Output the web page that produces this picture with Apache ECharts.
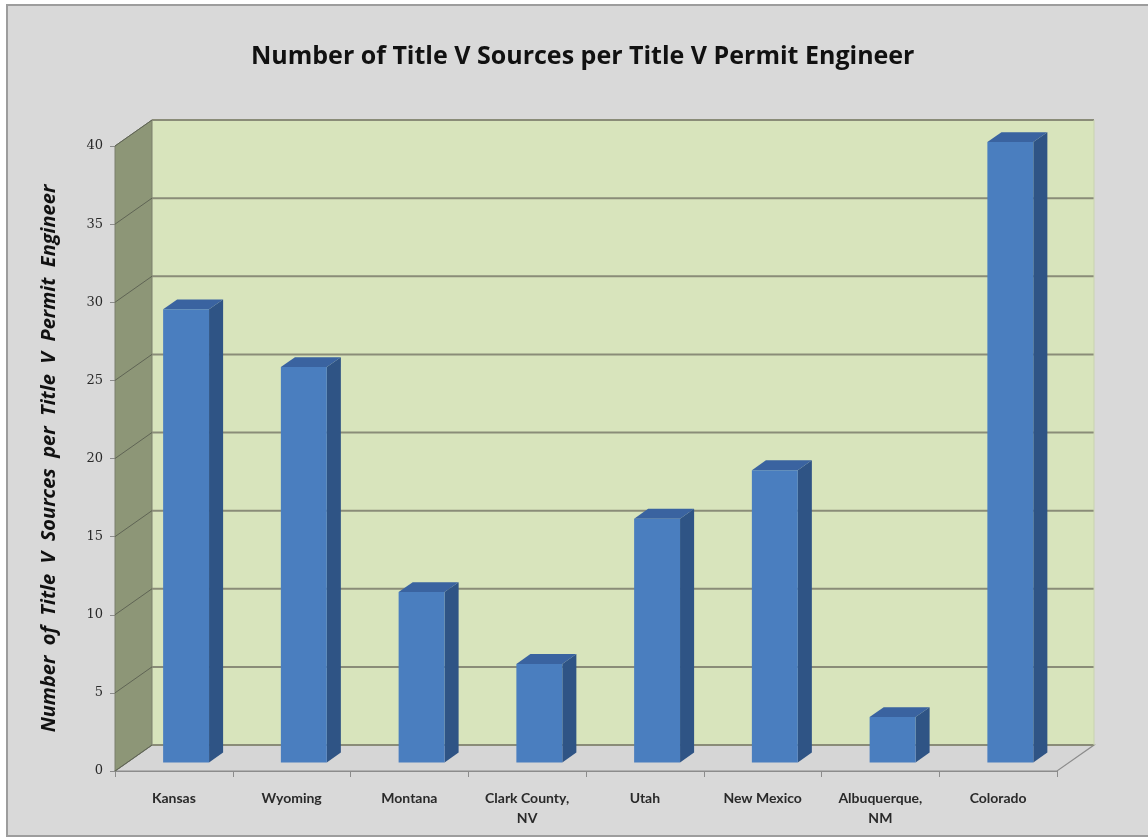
<!DOCTYPE html>
<html>
<head>
<meta charset="utf-8">
<script src="https://cdn.jsdelivr.net/npm/echarts@6/dist/echarts.min.js"></script>
<style>
  html, body { margin: 0; padding: 0; background: #fff; }
  #chart { width: 1148px; height: 840px; }
</style>
</head>
<body>
<div id="chart"></div>
<script>
const categories = ['Kansas', 'Wyoming', 'Montana', 'Clark County,\nNV', 'Utah', 'New Mexico', 'Albuquerque,\nNM', 'Colorado'];
const values = [29.0, 25.3, 10.9, 6.3, 15.6, 18.7, 2.9, 39.7];
const yMin = 0;
const yMax = 40;
const yStep = 5;

// fake 3d: offset of the back wall from the front plane, bar depth range and width
const depth = { dx: 37, dy: -26 };
const barFront = 0.33;
const barBack = 0.71;
const barWidth = 0.39;

const chart = echarts.init(document.getElementById('chart'));

function renderWalls(params, api) {
  const cs = params.coordSys;
  const x0 = cs.x;
  const x1 = cs.x + cs.width;
  const yb = api.coord([0, yMin])[1];
  const yt = api.coord([0, yMax])[1];
  const dx = depth.dx, dy = depth.dy;
  const children = [
    // back wall
    { type: 'polygon', shape: { points: [[x0 + dx, yb + dy], [x1 + dx, yb + dy], [x1 + dx, yt + dy], [x0 + dx, yt + dy]] },
      style: { fill: '#d8e4bc' } },
    // floor
    { type: 'polygon', shape: { points: [[x0, yb], [x1, yb], [x1 + dx, yb + dy], [x0 + dx, yb + dy]] },
      style: { fill: '#d6d6d6', stroke: '#8c8c8c', lineWidth: 1.2 } },
    // left side wall
    { type: 'polygon', shape: { points: [[x0, yb], [x0 + dx, yb + dy], [x0 + dx, yt + dy], [x0, yt]] },
      style: { fill: '#8d9677', stroke: '#7a7f6c', lineWidth: 1 } }
  ];
  for (let v = yMin; v <= yMax; v += yStep) {
    const y = api.coord([0, v])[1];
    children.push({ type: 'line', shape: { x1: x0, y1: y, x2: x0 + dx, y2: y + dy },
      style: { stroke: '#5f6454', lineWidth: 1 } });
    children.push({ type: 'line', shape: { x1: x0 + dx, y1: y + dy, x2: x1 + dx, y2: y + dy },
      style: { stroke: '#8a8c78', lineWidth: 2 } });
  }
  // right edge of the back wall
  children.push({ type: 'line', shape: { x1: x1 + dx, y1: yb + dy, x2: x1 + dx, y2: yt + dy },
    style: { stroke: '#c9d3b0', lineWidth: 1 } });
  return { type: 'group', children: children };
}

function renderBar(params, api) {
  const idx = api.value(0);
  const v = api.value(1);
  const base = api.coord([idx, 0]);
  const top = api.coord([idx, v]);
  const band = api.size([1, 0])[0];
  const w = band * barWidth;
  const fx = depth.dx * barFront, fy = depth.dy * barFront;
  const sx = depth.dx * (barBack - barFront), sy = depth.dy * (barBack - barFront);
  const left = base[0] - w / 2 + fx;
  const right = left + w;
  const yb = base[1] + fy;
  const yt = top[1] + fy;
  return {
    type: 'group',
    children: [
      { type: 'polygon', shape: { points: [[right, yb], [right + sx, yb + sy], [right + sx, yt + sy], [right, yt]] },
        style: { fill: '#2f5485' } },
      { type: 'polygon', shape: { points: [[left, yt], [right, yt], [right + sx, yt + sy], [left + sx, yt + sy]] },
        style: { fill: '#3a63a0' } },
      { type: 'rect', shape: { x: left, y: yt, width: w, height: yb - yt },
        style: { fill: '#4a7ebf' } }
    ]
  };
}

const option = {
  animation: false,
  graphic: [
    { type: 'rect', z: -10, shape: { x: 7, y: 5, width: 1150, height: 831 },
      style: { fill: '#d9d9d9', stroke: '#9d9d9d', lineWidth: 2 } }
  ],
  title: {
    text: 'Number of Title V Sources per Title V Permit Engineer',
    left: 246,
    top: 39,
    textStyle: { fontFamily: 'Open Sans', fontWeight: 'bold', fontSize: 25, color: '#111' }
  },
  grid: { left: 115, right: 91, top: 146, bottom: 69 },
  xAxis: {
    type: 'category',
    data: categories,
    axisLine: { show: true, lineStyle: { color: '#8c8c8c', width: 1.2 } },
    axisTick: { show: true, length: 6, lineStyle: { color: '#8c8c8c' } },
    axisLabel: { margin: 17, fontFamily: 'Lato', fontWeight: 'bold', fontSize: 14, color: '#2a2a2a', lineHeight: 20 },
    splitLine: { show: false }
  },
  yAxis: {
    type: 'value',
    min: yMin,
    max: yMax,
    interval: yStep,
    name: 'Number  of  Title  V  Sources  per  Title  V  Permit  Engineer',
    nameLocation: 'middle',
    nameGap: 56,
    nameRotate: 90,
    nameTextStyle: { fontFamily: 'Open Sans', fontStyle: 'italic', fontWeight: 'bold', fontSize: 20, color: '#111' },
    axisLine: { show: true, lineStyle: { color: '#8c8c8c' } },
    axisTick: { show: true, length: 5, lineStyle: { color: '#8c8c8c' } },
    axisLabel: { margin: 12, fontFamily: 'DejaVu Serif', fontSize: 13, color: '#2a2a2a' },
    splitLine: { show: false }
  },
  series: [
    { type: 'custom', name: 'walls', z: 1, silent: true, data: [[0, 0]], renderItem: renderWalls },
    { type: 'custom', name: 'bars', z: 3, data: values.map((v, i) => [i, v]), renderItem: renderBar }
  ]
};

chart.setOption(option);
</script>
</body>
</html>
